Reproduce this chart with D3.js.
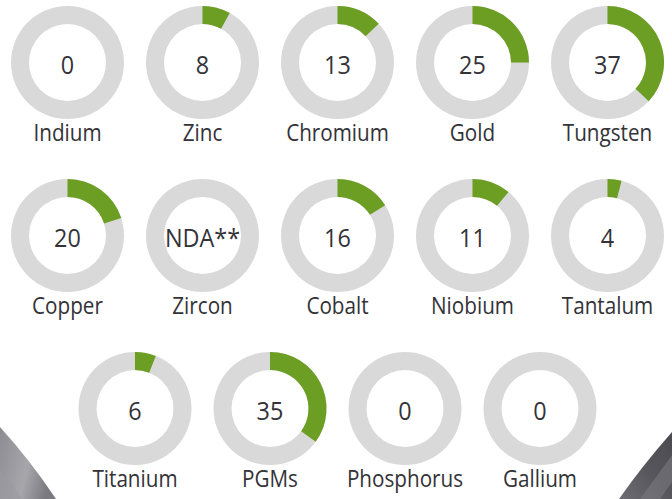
<!DOCTYPE html>
<html>
<head>
<meta charset="utf-8">
<script src="https://cdn.jsdelivr.net/npm/d3@7/dist/d3.min.js"></script>
<style>
  html, body { margin: 0; padding: 0; background: #ffffff; }
  svg { display: block; }
</style>
</head>
<body>
<svg id="chart" width="672" height="499"></svg>
<script>
// Share (%) per mineral; null means no data available
const minerals = ["Indium", "Zinc", "Chromium", "Gold", "Tungsten",
                  "Copper", "Zircon", "Cobalt", "Niobium", "Tantalum",
                  "Titanium", "PGMs", "Phosphorus", "Gallium"];
const shares = [0, 8, 13, 25, 37,
                20, null, 16, 11, 4,
                6, 35, 0, 0];
const noDataLabel = "NDA**";
const rowSizes = [5, 5, 4];

const W = 672, H = 499;
const svg = d3.select("#chart");

// Decorative metallic shapes in the lower corners
const defs = svg.append("defs");
const gl = defs.append("linearGradient").attr("id", "gLeft")
  .attr("x1", "0").attr("y1", "0").attr("x2", "1").attr("y2", "0.3");
gl.append("stop").attr("offset", "0").attr("stop-color", "#8c8c92");
gl.append("stop").attr("offset", "0.6").attr("stop-color", "#a6a6ab");
gl.append("stop").attr("offset", "1").attr("stop-color", "#7a7a80");
const gr = defs.append("linearGradient").attr("id", "gRight")
  .attr("x1", "0").attr("y1", "1").attr("x2", "1").attr("y2", "0");
gr.append("stop").attr("offset", "0").attr("stop-color", "#6c6c72");
gr.append("stop").attr("offset", "0.5").attr("stop-color", "#56565c");
gr.append("stop").attr("offset", "1").attr("stop-color", "#4a4a50");

svg.append("path")
  .attr("d", "M0,427 Q30,460 56,499 L0,499 Z")
  .attr("fill", "url(#gLeft)");
svg.append("path")
  .attr("d", "M0,470 Q14,486 22,499 L0,499 Z")
  .attr("fill", "#9a9aa0").attr("opacity", 0.6);
svg.append("path")
  .attr("d", "M672,432 Q642,466 619,499 L672,499 Z")
  .attr("fill", "url(#gRight)");
svg.append("path")
  .attr("d", "M672,455 L640,499 L660,499 L672,482 Z")
  .attr("fill", "#7c7c82").attr("opacity", 0.55);

// Grid layout
const colStep = 135, x0 = 67.5;
const rowY = d3.scaleLinear().domain([0, 2]).range([62.5, 408.5]);
const rOuter = 56.5, rInner = 38.5;

const items = [];
let idx = 0;
rowSizes.forEach((n, r) => {
  const offset = (5 - n) * colStep / 2;
  for (let c = 0; c < n; c++) {
    items.push({ name: minerals[idx], value: shares[idx],
                 cx: x0 + offset + c * colStep, cy: rowY(r) });
    idx++;
  }
});

const angle = d3.scaleLinear().domain([0, 100]).range([0, 2 * Math.PI]);
const arc = d3.arc().innerRadius(rInner).outerRadius(rOuter);

const g = svg.selectAll("g.donut").data(items).join("g")
  .attr("class", "donut")
  .attr("transform", d => `translate(${d.cx},${d.cy})`);

g.append("path")
  .attr("d", arc({ startAngle: 0, endAngle: 2 * Math.PI }))
  .attr("fill", "#d9d9d9");

g.filter(d => d.value)
  .append("path")
  .attr("d", d => arc({ startAngle: 0, endAngle: angle(d.value) }))
  .attr("fill", "#6b9e22");

g.append("text")
  .attr("text-anchor", "middle")
  .attr("y", 11)
  .attr("font-family", "'Open Sans', 'Noto Sans', sans-serif")
  .attr("font-size", 26)
  .attr("fill", "#333338")
  .attr("transform", "scale(0.9,1)")
  .text(d => d.value === null ? noDataLabel : d.value);

g.append("text")
  .attr("text-anchor", "middle")
  .attr("y", 79)
  .attr("font-family", "'Open Sans', 'Noto Sans', sans-serif")
  .attr("font-size", 23.5)
  .attr("fill", "#333338")
  .attr("transform", "scale(0.88,1)")
  .text(d => d.name);
</script>
</body>
</html>
